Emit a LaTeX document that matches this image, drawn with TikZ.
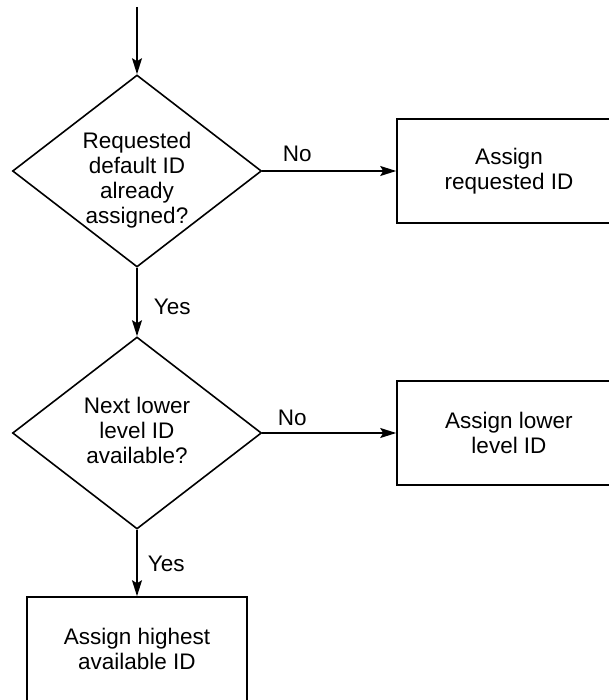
\documentclass[tikz,border=0pt]{standalone}
\usepackage{fontspec}
\setmainfont{Liberation Sans}
\usepackage{tikz}
\usetikzlibrary{arrows.meta,shapes.geometric,positioning}

\begin{document}
\begin{tikzpicture}[x=1pt,y=-1pt,line width=1.6pt,
  font=\fontsize{22.5}{25}\selectfont,
  decision/.style={draw,diamond,minimum width=249pt,minimum height=192pt,inner sep=0pt},
  assignbox/.style={draw,rectangle,minimum width=224pt,minimum height=104pt,align=center,inner sep=0pt},
  flow/.style={-{Stealth[length=16pt,width=10pt,inset=3pt]}},
  lbl/.style={anchor=base west,inner sep=0pt}]
\useasboundingbox (0,0) rectangle (608,700);
% decisions
\node[decision] (dec1) at (137,171) {};
\node[align=center] (dec1txt) at (137,180) {Requested\\default ID\\already\\assigned?};
\node[decision] (dec2) at (137,433) {};
\node[align=center] (dec2txt) at (137,430) {Next lower\\level ID\\available?};
% outcomes
\node[assignbox] (box1) at (509,171) {Assign\\requested ID};
\node[assignbox] (box2) at (509,433) {Assign lower\\level ID};
\node[assignbox,minimum width=220pt] (box3) at (137,649) {Assign highest\\available ID};
% connectors
\coordinate (start) at (137,7);
\draw[flow] (start) -- (dec1.north);
\draw[flow] (dec1.east) -- (box1.west);
\draw[flow] (dec1.south) -- (dec2.north);
\draw[flow] (dec2.east) -- (box2.west);
\draw[flow] (dec2.south) -- (box3.north);
\node[lbl] (no1) at (282,162) {No};
\node[lbl] (yes1) at (153,314) {Yes};
\node[lbl] (no2) at (277,425) {No};
\node[lbl] (yes2) at (147,571) {Yes};
\end{tikzpicture}
\end{document}
